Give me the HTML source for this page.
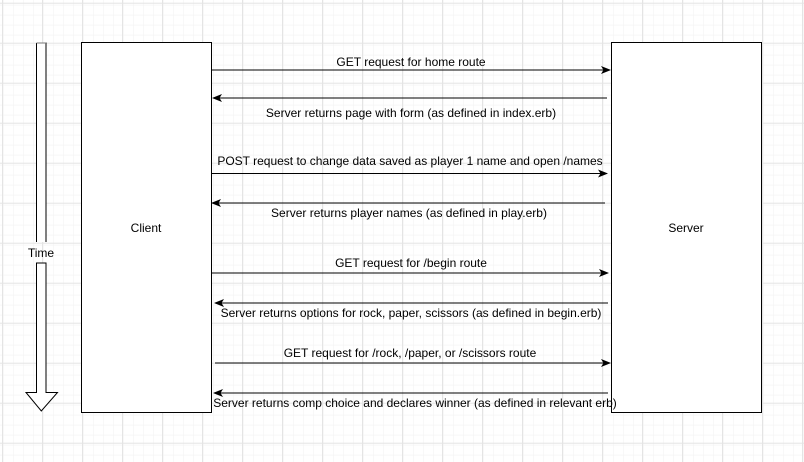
<!DOCTYPE html>
<html><head><meta charset="utf-8"><style>
html,body{margin:0;padding:0;background:#fff}
svg{display:block}
text{font-family:"Liberation Sans",Arial,sans-serif;font-size:12px;fill:#000}
</style></head><body>
<svg width="804" height="462" viewBox="0 0 804 462" xmlns="http://www.w3.org/2000/svg">
<defs>
<pattern id="minor" width="10" height="10" patternUnits="userSpaceOnUse" x="2" y="2.7">
<path d="M10 0V10M0 10H10" fill="none" stroke="#f1f1f1" stroke-width="1"/>
</pattern>
<pattern id="major" width="40" height="40" patternUnits="userSpaceOnUse" x="2" y="2.7">
<rect width="40" height="40" fill="url(#minor)"/>
<path d="M0 0.5H40M0.5 0V40" fill="none" stroke="#e4e4e4" stroke-width="1"/>
</pattern>
<marker id="ah" markerWidth="10" markerHeight="8" refX="9" refY="4" orient="auto" markerUnits="userSpaceOnUse">
<path d="M0 0L10 4L0 8L2.5 4Z" fill="#000"/>
</marker>
</defs>
<rect width="804" height="462" fill="#fff"/>
<rect width="804" height="462" fill="url(#major)"/>
<path d="M36.5 263V392.5H26L41.3 411L57.5 392.5H46V263Z" fill="#fff" stroke="#000"/>
<rect x="37" y="43" width="9" height="199" fill="#fff"/>
<path d="M36.5 43H46V242M36.5 43V242" fill="none" stroke="#000"/>
<line x1="36.5" y1="43" x2="46" y2="43" stroke="#777"/>
<text x="41" y="257" text-anchor="middle">Time</text>
<rect x="81.5" y="42.5" width="130" height="370" fill="#fff" stroke="#000"/>
<text x="146" y="232" text-anchor="middle">Client</text>
<rect x="611.5" y="42.5" width="150" height="370" fill="#fff" stroke="#000"/>
<text x="686" y="232" text-anchor="middle">Server</text>
<g stroke="#000" stroke-width="1" marker-end="url(#ah)">
<line x1="212" y1="70" x2="610" y2="70"/>
<line x1="607" y1="98" x2="213" y2="98"/>
<line x1="212" y1="173.5" x2="607" y2="173.5"/>
<line x1="605" y1="203" x2="212" y2="203"/>
<line x1="211" y1="273" x2="608" y2="273"/>
<line x1="608" y1="303" x2="215" y2="303"/>
<line x1="215" y1="363" x2="610" y2="363"/>
<line x1="608" y1="393" x2="214" y2="393"/>
</g>
<g text-anchor="middle">
<text x="411" y="66">GET request for home route</text>
<text x="411" y="117">Server returns page with form (as defined in index.erb)</text>
<text x="410" y="165">POST request to change data saved as player 1 name and open /names</text>
<text x="409" y="217">Server returns player names (as defined in play.erb)</text>
<text x="411" y="267">GET request for /begin route</text>
<text x="411" y="317">Server returns options for rock, paper, scissors (as defined in begin.erb)</text>
<text x="410" y="357">GET request for /rock, /paper, or /scissors route</text>
<text x="415" y="407">Server returns comp choice and declares winner (as defined in relevant erb)</text>
</g>
</svg>
</body></html>
